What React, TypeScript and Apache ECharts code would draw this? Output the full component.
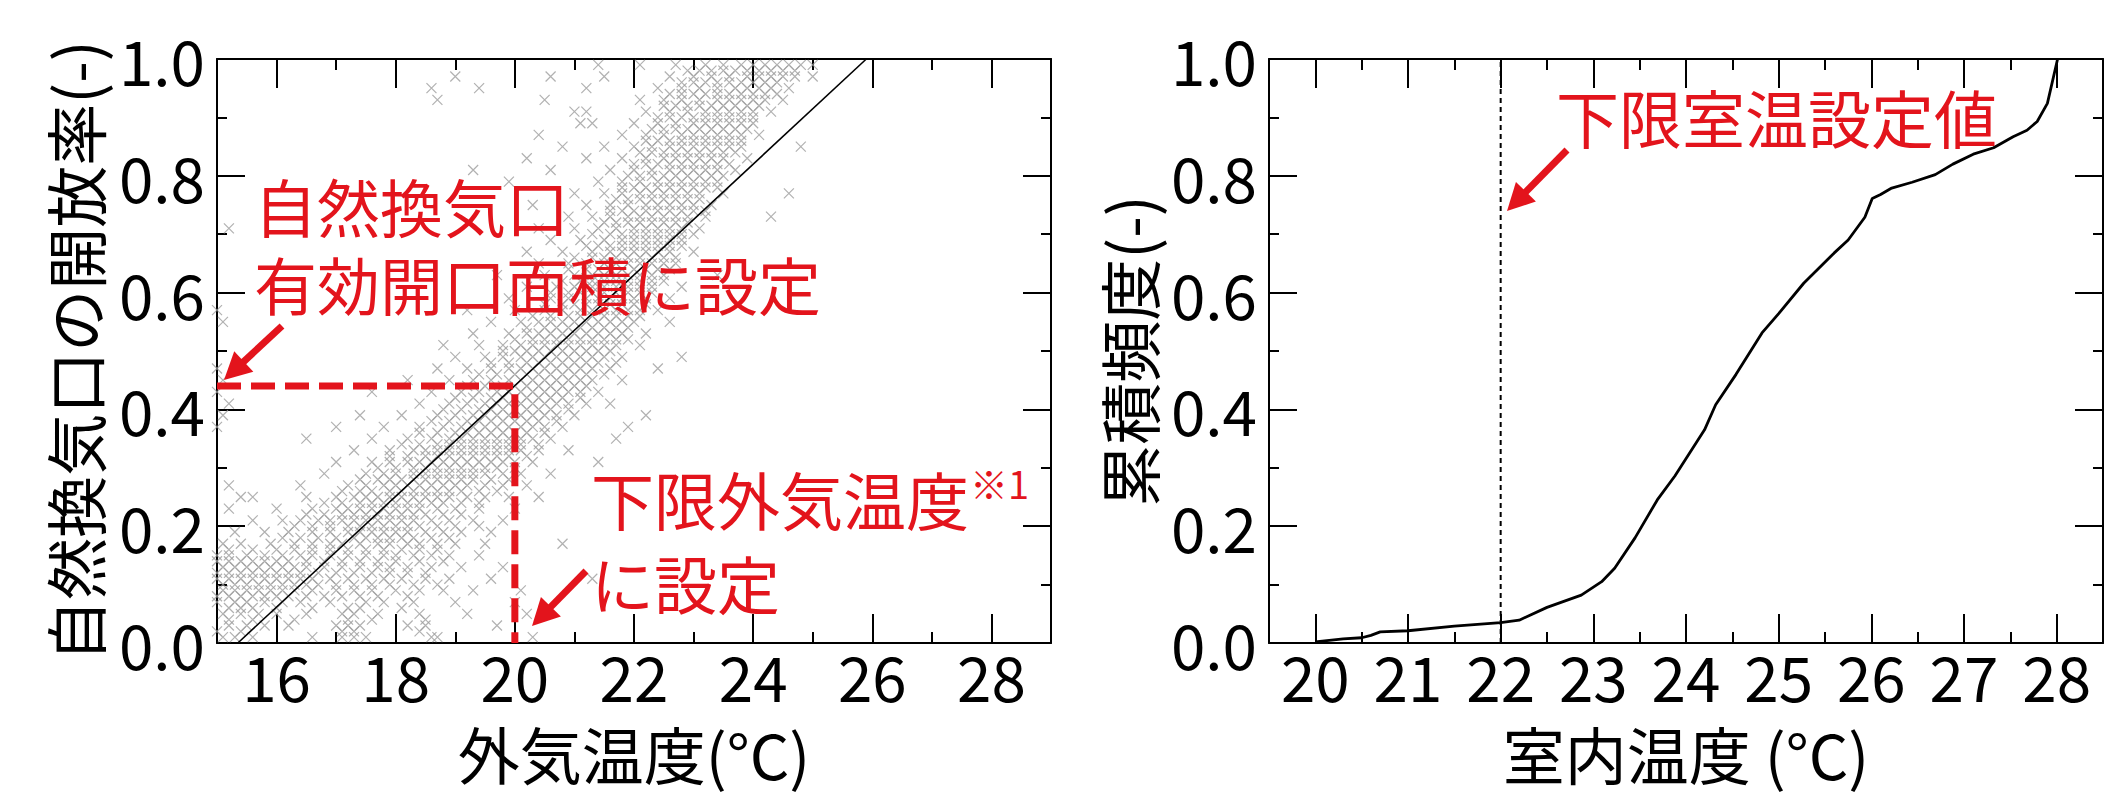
import React, { useEffect, useRef } from 'react';
import * as echarts from 'echarts';

const FONT = '"Noto Sans CJK JP", "Noto Sans", sans-serif';
const RED = '#e3141c';
const GRAY = '#9e9e9e';

// ---- left chart: outdoor temperature vs opening ratio ----
const leftXMajor = [16, 18, 20, 22, 24, 26, 28];
const fitLineX = [15.35, 25.9];
const fitLineY = [0, 1];
const thresholdX = [15, 20, 20];
const thresholdY = [0.44, 0.44, 0];

// rows of scatter points: [opening ratio, outdoor temperatures...]
const scatterLow: [number, number[]][] = [
  [0.01, [15.1, 15.3, 15.6, 16.6, 17.1, 17.3, 17.5, 18.6, 18.7, 20.3]],
  [0.03, [15.2, 15.5, 15.8, 16.2, 17.0, 17.2, 17.4, 18.2, 18.5, 19.7]],
  [0.05, [15.1, 15.4, 15.7, 16.0, 16.5, 17.1, 17.3, 17.7, 18.4, 19.2, 20.2]],
  [0.07, [15.0, 15.3, 15.5, 15.8, 16.1, 16.4, 16.9, 17.5, 17.8, 18.3, 19.0, 20.0]],
  [0.09, [15.1, 15.3, 15.5, 15.7, 15.9, 16.1, 16.3, 16.6, 17.0, 17.3, 17.6, 18.0, 18.4, 18.8, 19.3, 20.1]],
  [0.11, [15.0, 15.2, 15.4, 15.6, 15.8, 16.0, 16.2, 16.4, 16.6, 16.9, 17.2, 17.5, 17.8, 18.1, 18.5, 18.9, 19.6, 21.3]],
  [0.13, [15.1, 15.3, 15.5, 15.7, 15.9, 16.1, 16.3, 16.5, 16.8, 17.1, 17.4, 17.7, 17.9, 18.2, 18.6, 19.1, 19.8]],
  [0.15, [15.0, 15.2, 15.5, 15.8, 16.1, 16.4, 16.6, 16.9, 17.2, 17.5, 17.8, 18.0, 18.3, 18.6, 18.9, 19.4]],
  [0.17, [15.1, 15.4, 15.9, 16.3, 16.6, 16.9, 17.1, 17.4, 17.7, 17.9, 18.2, 18.4, 18.7, 19.0, 19.5, 20.8]],
  [0.19, [15.3, 15.8, 16.2, 16.6, 16.9, 17.2, 17.4, 17.6, 17.8, 18.0, 18.2, 18.5, 18.8, 19.1, 19.6]],
  [0.21, [15.6, 16.1, 16.4, 16.7, 16.9, 17.1, 17.3, 17.5, 17.7, 17.9, 18.1, 18.3, 18.6, 18.9, 19.3, 19.8]],
  [0.23, [15.2, 16.0, 16.6, 17.0, 17.2, 17.4, 17.6, 17.8, 18.0, 18.2, 18.4, 18.7, 19.0, 19.4, 20.0]],
  [0.25, [15.4, 15.6, 16.5, 17.0, 17.3, 17.5, 17.7, 17.9, 18.1, 18.3, 18.5, 18.7, 18.9, 19.2, 19.5, 19.9, 20.4]],
  [0.27, [15.2, 16.4, 17.2, 17.5, 17.8, 18.0, 18.2, 18.4, 18.6, 18.8, 19.0, 19.2, 19.5, 19.8, 20.2]],
  [0.29, [16.8, 17.5, 17.8, 18.0, 18.3, 18.5, 18.7, 18.9, 19.1, 19.3, 19.5, 19.8, 20.1, 20.6]],
  [0.31, [17.0, 17.6, 17.9, 18.2, 18.4, 18.6, 18.8, 19.0, 19.2, 19.4, 19.6, 19.8, 20.0, 20.3, 21.4]],
  [0.33, [17.3, 17.9, 18.3, 18.5, 18.7, 18.9, 19.1, 19.3, 19.5, 19.7, 19.9, 20.1, 20.4, 20.9]],
];
const scatterMid: [number, number[]][] = [
  [0.35, [16.5, 17.6, 18.2, 18.6, 18.9, 19.1, 19.3, 19.5, 19.7, 19.9, 20.1, 20.3, 20.6, 21.7]],
  [0.37, [15.0, 17.0, 17.8, 18.4, 18.8, 19.1, 19.3, 19.5, 19.7, 19.9, 20.1, 20.3, 20.5, 20.8, 21.9]],
  [0.39, [15.1, 17.4, 18.1, 18.7, 19.0, 19.3, 19.5, 19.7, 19.9, 20.1, 20.3, 20.5, 20.7, 21.0, 22.2]],
  [0.41, [15.2, 18.4, 18.9, 19.2, 19.5, 19.7, 19.9, 20.1, 20.3, 20.5, 20.7, 20.9, 21.2, 21.6]],
  [0.43, [15.0, 17.6, 18.6, 19.1, 19.4, 19.7, 19.9, 20.1, 20.3, 20.5, 20.7, 20.9, 21.1, 21.4]],
  [0.45, [15.1, 18.2, 18.9, 19.3, 19.6, 19.9, 20.1, 20.3, 20.5, 20.7, 20.9, 21.1, 21.3, 21.8]],
  [0.47, [15.0, 18.7, 19.2, 19.6, 19.9, 20.1, 20.3, 20.5, 20.7, 20.9, 21.1, 21.3, 21.6, 22.4]],
  [0.49, [19.0, 19.5, 19.8, 20.1, 20.3, 20.5, 20.7, 20.9, 21.1, 21.3, 21.5, 21.8, 22.8]],
  [0.51, [18.8, 19.4, 19.8, 20.1, 20.3, 20.5, 20.7, 20.9, 21.1, 21.3, 21.5, 21.7, 22.1]],
  [0.53, [19.3, 19.9, 20.2, 20.4, 20.6, 20.8, 21.0, 21.2, 21.4, 21.6, 21.8, 22.2]],
  [0.55, [15.1, 19.6, 20.1, 20.4, 20.6, 20.8, 21.0, 21.2, 21.4, 21.6, 21.8, 22.0, 22.6]],
  [0.57, [15.0, 19.2, 20.0, 20.5, 20.8, 21.1, 21.3, 21.5, 21.7, 21.9, 22.1, 22.4]],
  [0.59, [19.9, 20.6, 20.9, 21.2, 21.4, 21.6, 21.8, 22.0, 22.2, 22.6]],
  [0.61, [20.2, 20.7, 21.0, 21.3, 21.5, 21.7, 21.9, 22.1, 22.3, 22.8]],
  [0.63, [19.7, 20.5, 21.0, 21.3, 21.5, 21.7, 21.9, 22.1, 22.3, 22.5, 23.4]],
  [0.65, [20.4, 20.9, 21.2, 21.5, 21.7, 21.9, 22.1, 22.3, 22.5, 22.7]],
  [0.67, [20.2, 20.8, 21.3, 21.6, 21.8, 22.0, 22.2, 22.4, 22.6, 23.0]],
];
const scatterHigh: [number, number[]][] = [
  [0.69, [20.6, 21.1, 21.5, 21.8, 22.0, 22.2, 22.4, 22.6, 22.8]],
  [0.71, [15.2, 20.4, 21.0, 21.4, 21.7, 22.0, 22.2, 22.4, 22.6, 22.8, 23.1]],
  [0.73, [20.9, 21.3, 21.6, 21.9, 22.1, 22.3, 22.5, 22.7, 22.9, 23.2, 24.3]],
  [0.75, [20.3, 21.2, 21.6, 21.9, 22.2, 22.4, 22.6, 22.8, 23.0, 23.3]],
  [0.77, [21.0, 21.5, 21.8, 22.1, 22.3, 22.5, 22.7, 22.9, 23.1, 23.5, 24.6]],
  [0.79, [19.9, 21.4, 21.8, 22.1, 22.4, 22.6, 22.8, 23.0, 23.2, 23.4]],
  [0.81, [19.3, 20.6, 21.6, 22.0, 22.3, 22.6, 22.8, 23.0, 23.2, 23.4, 23.7]],
  [0.83, [20.2, 21.2, 21.8, 22.2, 22.5, 22.7, 22.9, 23.1, 23.3, 23.5, 23.9]],
  [0.85, [20.8, 21.5, 22.0, 22.3, 22.6, 22.8, 23.0, 23.2, 23.4, 23.6, 23.8, 24.8]],
  [0.87, [20.4, 21.8, 22.2, 22.5, 22.8, 23.0, 23.2, 23.4, 23.6, 23.8, 24.1]],
  [0.89, [21.1, 21.3, 22.0, 22.4, 22.7, 23.0, 23.2, 23.4, 23.6, 23.8, 24.0]],
  [0.91, [21.0, 21.2, 22.2, 22.6, 22.9, 23.2, 23.4, 23.6, 23.8, 24.0, 24.3]],
  [0.93, [18.7, 20.5, 22.1, 22.5, 22.8, 23.1, 23.4, 23.6, 23.8, 24.0, 24.2, 24.5]],
  [0.95, [18.6, 19.4, 21.2, 22.4, 22.8, 23.1, 23.4, 23.7, 23.9, 24.1, 24.3, 24.6]],
  [0.97, [19.0, 20.6, 21.5, 22.6, 23.0, 23.3, 23.6, 23.9, 24.1, 24.3, 24.5, 24.7, 25.0]],
  [0.99, [21.4, 22.1, 22.7, 23.2, 23.5, 23.8, 24.0, 24.2, 24.4, 24.6, 24.8, 25.0]],
];
// denser core of the cloud, on the even rows
const scatterCore: [number, number[]][] = [
  [0.02, [15.0, 15.4, 17.1, 17.3, 18.4]],
  [0.04, [15.2, 15.6, 16.3, 17.2, 17.6, 18.5]],
  [0.06, [15.2, 15.4, 15.6, 16.0, 16.6, 17.2, 17.4, 18.1]],
  [0.08, [15.0, 15.2, 15.4, 15.6, 15.8, 16.0, 16.2, 16.5, 16.8, 17.1, 17.4, 17.7, 18.2]],
  [0.10, [15.1, 15.3, 15.5, 15.7, 15.9, 16.1, 16.3, 16.5, 16.7, 17.0, 17.3, 17.6, 17.9, 18.3, 18.7]],
  [0.12, [15.0, 15.2, 15.4, 15.6, 15.8, 16.0, 16.2, 16.4, 16.7, 17.0, 17.3, 17.6, 17.9, 18.2, 18.5]],
  [0.14, [15.0, 15.2, 15.4, 15.6, 15.8, 16.0, 16.2, 16.5, 16.8, 17.1, 17.4, 17.7, 18.0, 18.4, 18.8]],
  [0.16, [15.2, 15.6, 16.0, 16.3, 16.6, 16.9, 17.2, 17.5, 17.8, 18.1, 18.4, 18.7]],
  [0.18, [16.1, 16.4, 16.7, 17.0, 17.3, 17.5, 17.7, 17.9, 18.1, 18.3, 18.6, 18.9]],
  [0.20, [16.3, 16.6, 16.9, 17.2, 17.4, 17.6, 17.8, 18.0, 18.2, 18.4, 18.7, 19.0, 19.4]],
  [0.22, [16.5, 16.8, 17.1, 17.3, 17.5, 17.7, 17.9, 18.1, 18.3, 18.5, 18.8, 19.1]],
  [0.24, [16.8, 17.1, 17.4, 17.6, 17.8, 18.0, 18.2, 18.4, 18.6, 18.8, 19.1, 19.4]],
  [0.26, [17.1, 17.4, 17.6, 17.9, 18.1, 18.3, 18.5, 18.7, 18.9, 19.1, 19.4, 19.7]],
  [0.28, [17.4, 17.7, 17.9, 18.1, 18.3, 18.5, 18.7, 18.9, 19.1, 19.3, 19.6, 19.9]],
  [0.30, [17.7, 18.0, 18.3, 18.5, 18.7, 18.9, 19.1, 19.3, 19.5, 19.7, 20.0]],
  [0.32, [17.9, 18.2, 18.5, 18.7, 18.9, 19.1, 19.3, 19.5, 19.7, 19.9, 20.2]],
  [0.34, [18.1, 18.4, 18.7, 18.9, 19.1, 19.3, 19.5, 19.7, 19.9, 20.1, 20.4]],
  [0.36, [18.4, 18.7, 19.0, 19.2, 19.4, 19.6, 19.8, 20.0, 20.2, 20.5]],
  [0.38, [18.6, 18.9, 19.2, 19.4, 19.6, 19.8, 20.0, 20.2, 20.4, 20.7]],
  [0.40, [18.8, 19.1, 19.4, 19.6, 19.8, 20.0, 20.2, 20.4, 20.6, 20.9]],
  [0.42, [19.0, 19.3, 19.6, 19.8, 20.0, 20.2, 20.4, 20.6, 20.8, 21.1]],
  [0.44, [19.2, 19.5, 19.8, 20.0, 20.2, 20.4, 20.6, 20.8, 21.0, 21.2]],
  [0.46, [19.4, 19.7, 20.0, 20.2, 20.4, 20.6, 20.8, 21.0, 21.2, 21.5]],
  [0.48, [19.6, 19.9, 20.2, 20.4, 20.6, 20.8, 21.0, 21.2, 21.4, 21.7]],
  [0.50, [19.8, 20.0, 20.2, 20.4, 20.6, 20.8, 21.0, 21.2, 21.4, 21.6]],
  [0.52, [20.0, 20.3, 20.5, 20.7, 20.9, 21.1, 21.3, 21.5, 21.7, 21.9]],
  [0.54, [20.2, 20.5, 20.7, 20.9, 21.1, 21.3, 21.5, 21.7, 21.9]],
  [0.56, [20.3, 20.6, 20.9, 21.1, 21.3, 21.5, 21.7, 21.9, 22.1]],
  [0.58, [20.5, 20.8, 21.0, 21.2, 21.4, 21.6, 21.8, 22.0, 22.2]],
  [0.60, [20.6, 20.9, 21.1, 21.3, 21.5, 21.7, 21.9, 22.1, 22.3]],
  [0.62, [20.8, 21.1, 21.3, 21.5, 21.7, 21.9, 22.1, 22.3, 22.5]],
  [0.64, [20.9, 21.2, 21.4, 21.6, 21.8, 22.0, 22.2, 22.4, 22.6]],
  [0.66, [21.0, 21.3, 21.5, 21.7, 21.9, 22.1, 22.3, 22.5, 22.7]],
  [0.68, [21.2, 21.4, 21.6, 21.8, 22.0, 22.2, 22.4, 22.6, 22.8]],
  [0.70, [21.3, 21.6, 21.8, 22.0, 22.2, 22.4, 22.6, 22.8, 23.0]],
  [0.72, [21.5, 21.7, 21.9, 22.1, 22.3, 22.5, 22.7, 22.9]],
  [0.74, [21.6, 21.8, 22.0, 22.2, 22.4, 22.6, 22.8, 23.0, 23.2]],
  [0.76, [21.7, 21.9, 22.1, 22.3, 22.5, 22.7, 22.9, 23.1]],
  [0.78, [21.8, 22.0, 22.2, 22.4, 22.6, 22.8, 23.0, 23.2, 23.4]],
  [0.80, [21.9, 22.1, 22.3, 22.5, 22.7, 22.9, 23.1, 23.3, 23.5]],
  [0.82, [22.0, 22.2, 22.4, 22.6, 22.8, 23.0, 23.2, 23.4, 23.6]],
  [0.84, [22.1, 22.3, 22.5, 22.7, 22.9, 23.1, 23.3, 23.5, 23.7]],
  [0.86, [22.2, 22.4, 22.6, 22.8, 23.0, 23.2, 23.4, 23.6, 23.8]],
  [0.88, [22.3, 22.5, 22.7, 22.9, 23.1, 23.3, 23.5, 23.7, 23.9]],
  [0.90, [22.4, 22.6, 22.8, 23.0, 23.2, 23.4, 23.6, 23.8, 24.0]],
  [0.92, [22.5, 22.7, 22.9, 23.1, 23.3, 23.5, 23.7, 23.9, 24.1]],
  [0.94, [22.6, 22.8, 23.0, 23.2, 23.4, 23.6, 23.8, 24.0, 24.2, 24.4]],
  [0.96, [22.8, 23.0, 23.2, 23.4, 23.6, 23.8, 24.0, 24.2, 24.4]],
  [0.98, [22.9, 23.1, 23.3, 23.5, 23.7, 23.9, 24.1, 24.3, 24.5, 24.7]],
];

// ---- right chart: cumulative frequency of indoor temperature ----
const rightXMajor = [20, 21, 22, 23, 24, 25, 26, 27, 28];
const indoorTemp = [20.0, 20.3, 20.5, 20.6, 20.7, 21.0, 21.5, 22.0, 22.2, 22.5, 22.87, 23.09, 23.23, 23.45, 23.69, 23.88, 24.2, 24.32, 24.54, 24.82, 25.0, 25.27, 25.6, 25.75, 25.93, 26.01, 26.1, 26.22, 26.44, 26.69, 26.88, 27.1, 27.32, 27.53, 27.68, 27.79, 27.9, 28.01];
const cumFreq = [0.002, 0.007, 0.009, 0.013, 0.019, 0.021, 0.029, 0.035, 0.039, 0.061, 0.082, 0.105, 0.128, 0.18, 0.245, 0.286, 0.365, 0.408, 0.46, 0.531, 0.564, 0.616, 0.668, 0.69, 0.729, 0.761, 0.768, 0.779, 0.789, 0.802, 0.82, 0.837, 0.848, 0.867, 0.878, 0.893, 0.924, 1.0];
const setpointTemp = 22;

function rowsToPoints(rows: [number, number[]][]) {
  const out: number[][] = [];
  rows.forEach(([y, xs]) => xs.forEach((x) => out.push([x, y])));
  return out;
}

function zip(xs: number[], ys: number[]) {
  return xs.map((x, i) => [x, ys[i]]);
}

const BLACK_LINE = { color: '#000', width: 2 };

function xAxes(grid: number, min: number, max: number, interval: number, majors: number[], name: string) {
  const base = {
    type: 'value', gridIndex: grid, min, max, interval,
    splitLine: { show: false },
    axisLine: { show: true, onZero: false, lineStyle: BLACK_LINE },
  };
  return [
    {
      ...base, position: 'bottom',
      axisTick: { show: true, inside: true, length: 11, lineStyle: BLACK_LINE },
      axisLabel: { customValues: majors, fontSize: 62, fontFamily: FONT, color: '#000', margin: 1 },
      name, nameLocation: 'middle', nameGap: 79,
      nameTextStyle: { fontSize: 62, fontFamily: FONT, color: '#000' },
    },
    {
      ...base, position: 'bottom', axisLine: { show: false, onZero: false },
      axisTick: { show: true, inside: true, length: 29, customValues: majors, lineStyle: BLACK_LINE },
      axisLabel: { show: false },
    },
    {
      ...base, position: 'top',
      axisTick: { show: true, inside: true, length: 11, lineStyle: BLACK_LINE },
      axisLabel: { show: false },
    },
    {
      ...base, position: 'top', axisLine: { show: false, onZero: false },
      axisTick: { show: true, inside: true, length: 29, customValues: majors, lineStyle: BLACK_LINE },
      axisLabel: { show: false },
    },
  ];
}

function yAxes(grid: number, name: string, nameGap: number) {
  const base = {
    type: 'value', gridIndex: grid, min: 0, max: 1, interval: 0.2,
    splitLine: { show: false },
    axisLine: { show: true, onZero: false, lineStyle: BLACK_LINE },
    axisTick: { show: true, inside: true, length: 28, lineStyle: BLACK_LINE },
    minorTick: { show: true, splitNumber: 2, length: 10, lineStyle: BLACK_LINE },
  };
  return [
    {
      ...base, position: 'left',
      axisLabel: {
        fontSize: 62, fontFamily: FONT, color: '#000', margin: 12,
        formatter: (v: number) => v.toFixed(1),
      },
      name, nameLocation: 'middle', nameGap, nameRotate: 90,
      nameTextStyle: { fontSize: 62, fontFamily: FONT, color: '#000' },
    },
    { ...base, position: 'right', axisLabel: { show: false } },
  ];
}

function arrow(sx: number, sy: number, tx: number, ty: number) {
  const dx = tx - sx;
  const dy = ty - sy;
  const len = Math.hypot(dx, dy);
  const ux = dx / len;
  const uy = dy / len;
  const L = 27;
  const W = 14;
  const bx = tx - ux * L;
  const by = ty - uy * L;
  return [
    { type: 'line', z: 100, shape: { x1: sx, y1: sy, x2: bx + ux * 3, y2: by + uy * 3 }, style: { stroke: RED, lineWidth: 7 } },
    {
      type: 'polygon', z: 100,
      shape: { points: [[tx, ty], [bx - uy * W, by + ux * W], [bx + uy * W, by - ux * W]] },
      style: { fill: RED },
    },
  ];
}

function redText(text: string, x: number, y: number, size = 63) {
  return {
    type: 'text', z: 100, x, y,
    style: { text, fill: RED, fontSize: size, fontFamily: FONT, verticalAlign: 'middle', align: 'left' },
  };
}

export default function App() {
  const ref = useRef<HTMLDivElement>(null);
  useEffect(() => {
    if (!ref.current) return;
    const chart = echarts.init(ref.current, undefined, { renderer: 'svg' });
    const scatterPts = [
      ...rowsToPoints(scatterLow),
      ...rowsToPoints(scatterMid),
      ...rowsToPoints(scatterHigh),
      ...rowsToPoints(scatterCore),
    ];
    chart.setOption({
      animation: false,
      backgroundColor: '#fff',
      textStyle: { fontFamily: FONT },
      grid: [
        { left: 217, top: 59, width: 834, height: 584, outerBoundsMode: 'none', containLabel: false },
        { left: 1269, top: 59, width: 834, height: 584, outerBoundsMode: 'none', containLabel: false },
      ],
      xAxis: [
        ...xAxes(0, 15, 29, 1, leftXMajor, '外気温度(°C)'),
        ...xAxes(1, 19.5, 28.5, 0.5, rightXMajor, '室内温度 (°C)'),
      ],
      yAxis: [
        ...yAxes(0, '自然換気口の開放率(-)', 112),
        ...yAxes(1, '累積頻度(-)', 110),
      ],
      series: [
        {
          type: 'scatter', xAxisIndex: 0, yAxisIndex: 0,
          data: scatterPts,
          symbol: 'path://M0,0L10,10M10,0L0,10',
          symbolSize: 10,
          large: false,
          itemStyle: { color: 'rgba(0,0,0,0)', borderColor: GRAY, borderWidth: 1.2 },
          emphasis: { disabled: true },
          z: 2,
        },
        {
          type: 'line', xAxisIndex: 0, yAxisIndex: 0,
          data: zip(fitLineX, fitLineY),
          symbol: 'none', lineStyle: { color: '#000', width: 1.6 },
          z: 3,
        },
        {
          type: 'line', xAxisIndex: 0, yAxisIndex: 0,
          data: zip(thresholdX, thresholdY),
          symbol: 'none', lineStyle: { color: RED, width: 7, type: [24, 10] },
          z: 4,
        },
        {
          type: 'line', xAxisIndex: 4, yAxisIndex: 2,
          data: [[setpointTemp, 0], [setpointTemp, 1]],
          symbol: 'none', lineStyle: { color: '#000', width: 2, type: [5, 4] },
          z: 3,
        },
        {
          type: 'line', xAxisIndex: 4, yAxisIndex: 2,
          data: zip(indoorTemp, cumFreq),
          symbol: 'none', lineStyle: { color: '#000', width: 2.8 },
          z: 4,
        },
      ],
      graphic: [
        redText('自然換気口', 254, 204),
        redText('有効開口面積に設定', 254, 282),
        redText('下限外気温度', 591, 497),
        redText('※1', 970, 482, 38),
        redText('に設定', 591, 581),
        redText('下限室温設定値', 1556, 115),
        ...arrow(282, 326, 224, 380),
        ...arrow(586, 571, 532, 626),
        ...arrow(1567, 150, 1507, 211),
      ],
    });
    return () => chart.dispose();
  }, []);
  return (
    <div
      ref={ref}
      style={{ position: 'absolute', left: 0, top: 0, width: 2121, height: 796 }}
    />
  );
}
